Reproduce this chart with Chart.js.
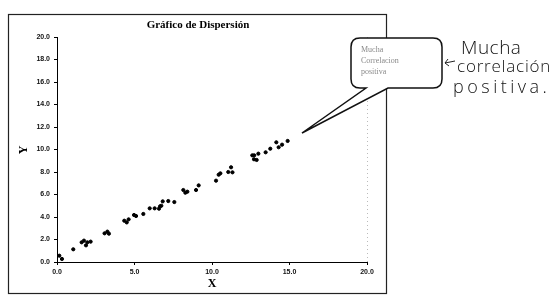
<!DOCTYPE html>
<html lang="es">
<head>
<meta charset="UTF-8">
<title>Gráfico de Dispersión</title>
<script src="https://cdn.jsdelivr.net/npm/chart.js"></script>
<style>
    html, body { margin: 0; padding: 0; background: #fff; }
    #wrap { position: relative; width: 558px; height: 305px; }
    .note {
        position: absolute;
        font-family: "Open Sans", sans-serif;
        font-weight: 300;
        color: #111;
        line-height: 18px;
        font-size: 17px;
        white-space: nowrap;
    }
</style>
</head>
<body>
<div id="wrap">
    <canvas id="chart" width="558" height="305"></canvas>
    <div class="note" style="left:461px; top:38px; font-size:19px; letter-spacing:0.5px;">Mucha</div>
    <div class="note" style="left:457px; top:57px; letter-spacing:0.8px;">correlación</div>
    <div class="note" style="left:453px; top:77px; font-size:18px; letter-spacing:3.5px;">positiva.</div>
</div>
<script>
const xValues = [0.15, 0.32, 1.05, 1.59, 1.74, 1.87, 1.96, 2.17, 3.07, 3.25, 3.35,
    4.34, 4.50, 4.62, 4.97, 5.10, 5.57, 5.98, 6.30, 6.58, 6.65, 6.73, 6.82, 7.18, 7.57,
    8.15, 8.28, 8.41, 8.97, 9.14, 10.26, 10.43, 10.54, 11.05, 11.23, 11.32,
    12.60, 12.72, 12.71, 12.88, 12.99, 13.46, 13.76, 14.15, 14.30, 14.52, 14.88];
const yValues = [0.56, 0.27, 1.13, 1.75, 1.90, 1.48, 1.75, 1.81, 2.55, 2.70, 2.52,
    3.67, 3.52, 3.79, 4.18, 4.09, 4.27, 4.77, 4.77, 4.74, 4.95, 5.00, 5.39, 5.42, 5.33,
    6.40, 6.16, 6.25, 6.40, 6.81, 7.23, 7.76, 7.88, 8.00, 8.42, 7.97,
    9.48, 9.48, 9.13, 9.07, 9.63, 9.75, 10.07, 10.64, 10.20, 10.43, 10.76];
const xTicks = [0, 5, 10, 15, 20];
const yTicks = [0, 2, 4, 6, 8, 10, 12, 14, 16, 18, 20];
const chartTitle = 'Gráfico de Dispersión';
const calloutLines = ['Mucha', 'Correlacion', 'positiva'];

const points = xValues.map((x, i) => ({ x: x, y: yValues[i] }));

const decor = {
    id: 'decor',
    beforeDraw(chart) {
        const c = chart.ctx;
        c.save();
        c.fillStyle = '#fff';
        c.fillRect(0, 0, chart.width, chart.height);
        // faint dotted line on the right edge of the plot
        const a = chart.chartArea;
        c.strokeStyle = '#bbb';
        c.setLineDash([1, 3]);
        c.lineWidth = 1;
        c.beginPath();
        c.moveTo(a.right + 0.5, a.top);
        c.lineTo(a.right + 0.5, a.bottom);
        c.stroke();
        c.restore();
    },
    afterDraw(chart) {
        const c = chart.ctx;
        c.save();
        // outer frame
        c.strokeStyle = '#222';
        c.lineWidth = 1.2;
        c.strokeRect(8.5, 14.5, 378, 279);
        // title and axis labels
        c.fillStyle = '#000';
        c.font = 'bold 11px "Liberation Serif"';
        c.textAlign = 'center';
        c.textBaseline = 'middle';
        c.fillText(chartTitle, 198, 25);
        c.font = 'bold 12px "Liberation Serif"';
        c.fillText('X', 212, 284);
        c.save();
        c.translate(24, 150);
        c.rotate(-Math.PI / 2);
        c.fillText('Y', 0, 0);
        c.restore();
        // callout bubble
        const bx = 351, by = 38, bw = 91, bh = 50, r = 9;
        c.lineWidth = 1.5;
        c.strokeStyle = '#111';
        c.beginPath();
        c.moveTo(bx + r, by);
        c.lineTo(bx + bw - r, by);
        c.quadraticCurveTo(bx + bw, by, bx + bw, by + r);
        c.lineTo(bx + bw, by + bh - r);
        c.quadraticCurveTo(bx + bw, by + bh, bx + bw - r, by + bh);
        c.lineTo(388, by + bh);
        c.lineTo(302, 133);
        c.lineTo(366, by + bh);
        c.lineTo(bx + r, by + bh);
        c.quadraticCurveTo(bx, by + bh, bx, by + bh - r);
        c.lineTo(bx, by + r);
        c.quadraticCurveTo(bx, by, bx + r, by);
        c.closePath();
        c.fillStyle = '#fff';
        c.fill();
        c.stroke();
        c.fillStyle = '#8a8a8a';
        c.font = '8px "Liberation Serif"';
        c.textAlign = 'left';
        calloutLines.forEach((t, i) => c.fillText(t, 361, 50 + i * 11));
        // small hand-drawn arrow towards the bubble
        c.strokeStyle = '#222';
        c.lineWidth = 1;
        c.beginPath();
        c.moveTo(455, 61); c.lineTo(445, 63);
        c.moveTo(448, 59); c.lineTo(445, 63); c.lineTo(449, 66);
        c.stroke();
        c.restore();
    }
};

new Chart(document.getElementById('chart'), {
    type: 'scatter',
    data: {
        datasets: [{
            data: points,
            backgroundColor: '#000',
            borderColor: '#000',
            pointRadius: 1.6,
            pointHoverRadius: 1.6
        }]
    },
    options: {
        responsive: false,
        animation: false,
        events: [],
        layout: { padding: { left: 0, top: 37, right: 191, bottom: 0 } },
        plugins: { legend: { display: false }, tooltip: { enabled: false } },
        scales: {
            x: {
                type: 'linear',
                min: 0, max: 20,
                afterFit(s) { s.height = 43; },
                afterBuildTicks(s) { s.ticks = xTicks.map(v => ({ value: v })); },
                grid: { drawOnChartArea: false, color: '#000', tickLength: 3 },
                border: { color: '#000', width: 1 },
                ticks: {
                    color: '#111', padding: 3,
                    font: { family: 'Liberation Sans', weight: 'bold', size: 7 },
                    callback: v => v.toFixed(1),
                    maxRotation: 0
                }
            },
            y: {
                type: 'linear',
                min: 0, max: 20,
                afterFit(s) { s.width = 57; },
                afterBuildTicks(s) { s.ticks = yTicks.map(v => ({ value: v })); },
                grid: { drawOnChartArea: false, color: '#000', tickLength: 3 },
                border: { color: '#000', width: 1 },
                ticks: {
                    color: '#111', padding: 4,
                    font: { family: 'Liberation Sans', weight: 'bold', size: 7 },
                    callback: v => v.toFixed(1)
                }
            }
        }
    },
    plugins: [decor]
});
</script>
</body>
</html>
